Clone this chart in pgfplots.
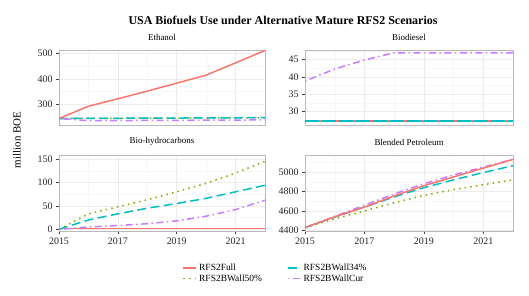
\documentclass[border=0pt]{standalone}
\usepackage{fontspec}
\setmainfont{Liberation Serif}
\usepackage{pgfplots}
\pgfplotsset{compat=1.18}
\definecolor{cR}{HTML}{F8766D}
\definecolor{cG}{HTML}{7CAE00}
\definecolor{cT}{HTML}{00BFC4}
\definecolor{cP}{HTML}{C77CFF}
\pgfplotsset{
  facet/.style={
    scale only axis, xmin=2015, xmax=2022,
    axis line style={draw=gray!55, line width=0.7pt},
    grid=both,
    major grid style={draw=gray!15, line width=0.5pt},
    minor grid style={draw=gray!7, line width=0.4pt},
    xtick={2015,2017,2019,2021}, minor xtick={2016,2018,2020,2022},
    tick align=outside, major tick length=3bp, minor tick length=0pt,
    tick style={draw=black!75, line width=0.5pt},
    xtick pos=bottom, ytick pos=left,
    ticklabel style={font=\fontsize{10}{11}\selectfont, text=black!85},
    /pgf/number format/assume math mode=true,
    /pgf/number format/1000 sep={},
    title style={font=\fontsize{9}{10}\selectfont, yshift=0bp},
    clip=true,
  },
  toprow/.style={xticklabels={}, x tick style={draw=none}},
  sR/.style={color=cR, line width=1.5pt, solid},
  sG/.style={color=cG, line width=1.5pt, dash pattern=on 1.5pt off 4.2pt},
  sT/.style={color=cT, line width=1.5pt, dash pattern=on 9pt off 4.5pt},
  sP/.style={color=cP, line width=1.5pt, dash pattern=on 1.5pt off 3.5pt on 7pt off 3.5pt},
}
\begin{document}
\begin{tikzpicture}
\useasboundingbox (0bp,0bp) rectangle (529bp,296bp);
\node[font=\bfseries\fontsize{12}{14}\selectfont] at (283bp,276bp) {USA Biofuels Use under Alternative Mature RFS2 Scenarios};
\node[rotate=90, font=\fontsize{11}{12}\selectfont] at (17bp,156bp) {million BOE};

% Ethanol
\begin{axis}[facet, toprow, at={(59bp,171bp)}, anchor=south west, width=206bp, height=75bp,
  ymin=220, ymax=512, ytick={300,400,500}, minor ytick={250,350,450}, title={Ethanol}]
\addplot[sG] coordinates {(2015,245)(2016,246)(2017,246)(2018,247)(2019,247)(2020,247)(2021,248)(2022,248)};
\addplot[sT] coordinates {(2015,245)(2016,246)(2017,246)(2018,247)(2019,247)(2020,248)(2021,248)(2022,249)};
\addplot[sP] coordinates {(2015,245)(2016,237)(2017,237)(2018,238)(2019,238)(2020,239)(2021,239)(2022,240)};
\addplot[sR] coordinates {(2015,245)(2016,293)(2017,322)(2018,352)(2019,383)(2020,414)(2021,462)(2022,510)};
\end{axis}

% Biodiesel
\begin{axis}[facet, toprow, at={(305bp,171bp)}, anchor=south west, width=208bp, height=75bp,
  ymin=26.1, ymax=47.8, ytick={30,35,40,45}, minor ytick={27.5,32.5,37.5,42.5,47.5}, title={Biodiesel}]
\addplot[sR] coordinates {(2015,27.2)(2022,27.2)};
\addplot[sG] coordinates {(2015,27.2)(2022,27.2)};
\addplot[sT, dash pattern=on 14pt off 3pt] coordinates {(2015,27.2)(2022,27.2)};
\addplot[sP] coordinates {(2015,38.8)(2016,42.3)(2017,44.9)(2018,47)(2019,47)(2020,47)(2021,47)(2022,47)};
\end{axis}

% Bio-hydrocarbons
\begin{axis}[facet, at={(59bp,65bp)}, anchor=south west, width=206bp, height=76bp,
  ymin=-3.6, ymax=158.5, ytick={0,50,100,150}, minor ytick={25,75,125}, title={Bio-hydrocarbons},
  legend columns=2,
  legend style={at={(0.585,-0.38)}, anchor=north west, draw=none, fill=none,
    font=\fontsize{9.5}{10.5}\selectfont, row sep=-1.5bp,
    /tikz/every even column/.append style={column sep=18bp}},
  legend image code/.code={\draw[#1] (0bp,0bp) -- (13bp,0bp);}]
\addplot[sR] coordinates {(2015,1.5)(2022,1.5)};
\addlegendentry{\makebox[68bp][l]{RFS2Full}}
\addplot[sT] coordinates {(2015,0)(2016,20)(2017,33)(2018,45)(2019,55)(2020,66)(2021,80)(2022,94)};
\addlegendentry{\makebox[68bp][l]{RFS2BWall34\%}}
\addplot[sG] coordinates {(2015,0)(2016,33)(2017,48)(2018,63)(2019,80)(2020,98)(2021,120)(2022,145)};
\addlegendentry{\makebox[68bp][l]{RFS2BWall50\%}}
\addplot[sP] coordinates {(2015,0)(2016,5)(2017,8)(2018,12)(2019,18)(2020,28)(2021,42)(2022,62)};
\addlegendentry{\makebox[68bp][l]{RFS2BWallCur}}
\end{axis}

% Blended Petroleum
\begin{axis}[facet, at={(305bp,65bp)}, anchor=south west, width=208bp, height=76bp,
  ymin=4395, ymax=5175, ytick={4400,4600,4800,5000}, minor ytick={4500,4700,4900,5100}, title={Blended Petroleum}]
\addplot[sG] coordinates {(2015,4430)(2016,4520)(2017,4600)(2018,4685)(2019,4760)(2020,4820)(2021,4870)(2022,4920)};
\addplot[sT] coordinates {(2015,4430)(2016,4538)(2017,4640)(2018,4745)(2019,4840)(2020,4920)(2021,4995)(2022,5065)};
\addplot[sP] coordinates {(2015,4430)(2016,4545)(2017,4660)(2018,4775)(2019,4880)(2020,4970)(2021,5050)(2022,5130)};
\addplot[sR] coordinates {(2015,4430)(2016,4540)(2017,4640)(2018,4755)(2019,4860)(2020,4950)(2021,5040)(2022,5130)};
\end{axis}
\end{tikzpicture}
\end{document}
